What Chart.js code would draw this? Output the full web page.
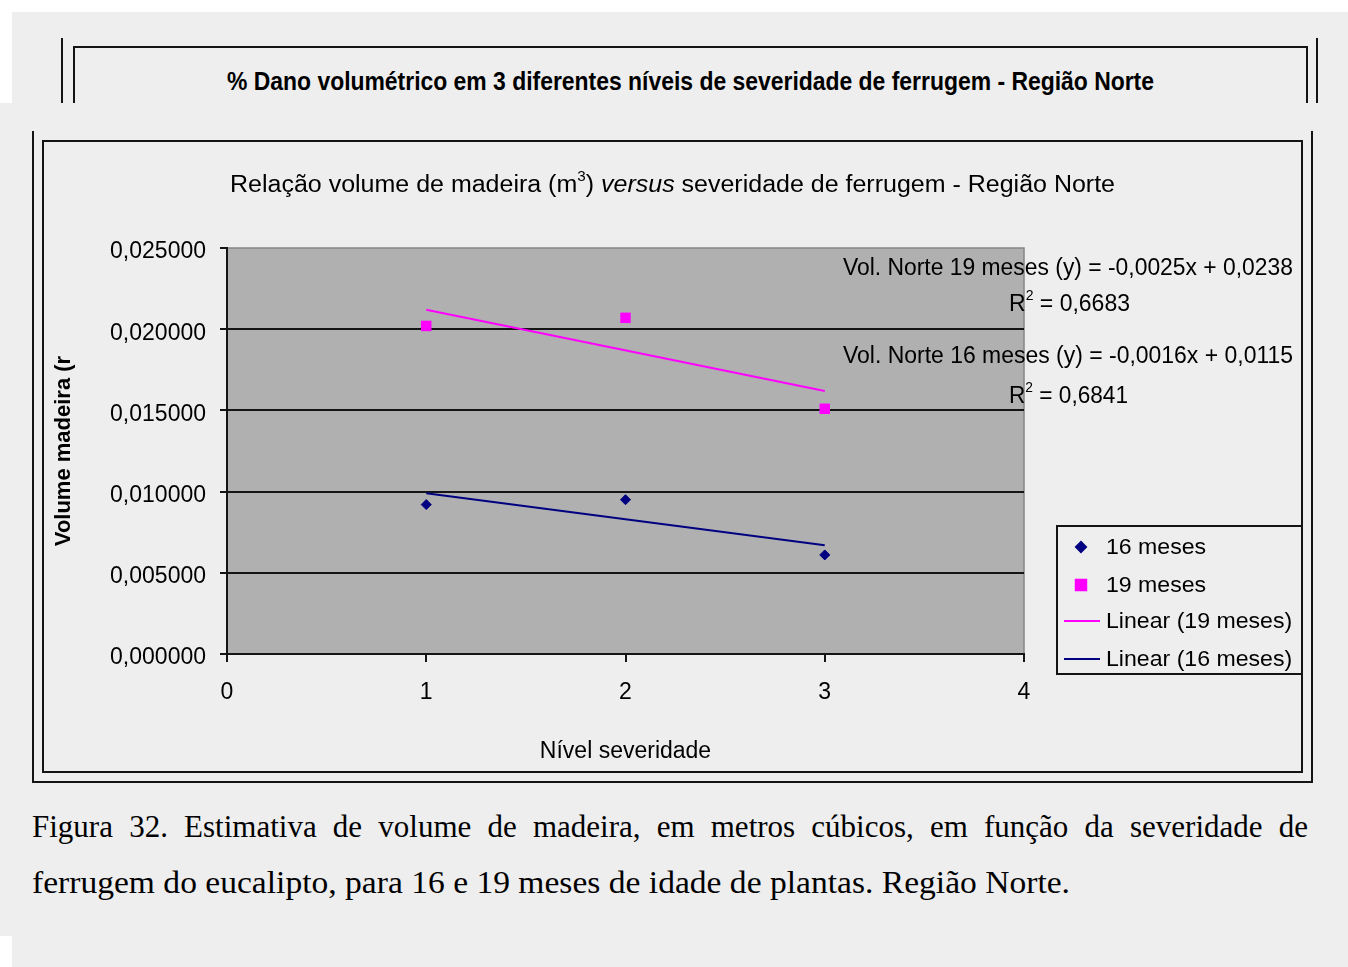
<!DOCTYPE html>
<html>
<head>
<meta charset="utf-8">
<title>Volume de madeira x severidade de ferrugem</title>
<script src="https://cdn.jsdelivr.net/npm/chart.js@4.4.1/dist/chart.umd.min.js"></script>
<style>
    html, body { margin: 0; padding: 0; background: #ffffff; }
    body { width: 1348px; height: 967px; position: relative; overflow: hidden; color: #000; font-family: "Liberation Sans", Arial, sans-serif; }
    .bg { position: absolute; background: #eeeeee; }
    .ln { position: absolute; background: #141414; }
    .box { position: absolute; border: 2px solid #141414; box-sizing: border-box; }
    .txt { position: absolute; white-space: nowrap; line-height: 1; transform-origin: 0 0; }
    .sup { position: relative; font-size: 14px; top: -11px; }
    canvas { position: absolute; left: 44px; top: 142px; }
</style>
</head>
<body>
    <!-- upper, cut-off figure -->
    <div class="bg" style="left:12px;top:12px;width:1336px;height:91px"></div>
    <div class="ln" style="left:61px;top:38px;width:2px;height:65px"></div>
    <div class="ln" style="left:1316px;top:38px;width:2px;height:65px"></div>
    <div class="box" style="left:73px;top:46px;width:1235px;height:120px"></div>
    <div class="txt fit" data-w="927" style="left:227px;top:69px;font-weight:bold;font-size:25px">% Dano volumétrico em 3 diferentes níveis de severidade de ferrugem - Região Norte</div>

    <!-- main figure -->
    <div class="bg" style="left:0;top:103px;width:1348px;height:833px"></div>
    <div class="bg" style="left:12px;top:936px;width:1336px;height:31px"></div>
    <div class="ln" style="left:32px;top:131px;width:2px;height:652px"></div>
    <div class="ln" style="left:1311px;top:131px;width:2px;height:652px"></div>
    <div class="ln" style="left:32px;top:781px;width:1281px;height:2px"></div>
    <div class="box" style="left:42px;top:140px;width:1261px;height:633px"></div>

    <canvas id="volumeChart" width="1257" height="629"></canvas>

    <div class="txt fit" data-w="885" style="left:230px;top:173px;font-size:23px">Relação volume de madeira (m<span class="sup">3</span>) <i>versus</i> severidade de ferrugem - Região Norte</div>

    <div class="txt fit" data-w="450" style="left:843px;top:256px;font-size:23px">Vol. Norte 19 meses (y) = -0,0025x + 0,0238</div>
    <div class="txt fit" data-w="121" style="left:1009px;top:292px;font-size:23px">R<span class="sup">2</span> = 0,6683</div>
    <div class="txt fit" data-w="450" style="left:843px;top:344px;font-size:23px">Vol. Norte 16 meses (y) = -0,0016x + 0,0115</div>
    <div class="txt fit" data-w="119" style="left:1009px;top:384px;font-size:23px">R<span class="sup">2</span> = 0,6841</div>

    <div class="txt" style="left:32px;top:811px;width:1276px;font-family:'Liberation Serif',serif;font-size:31px;text-align:justify;text-align-last:justify;white-space:normal">Figura 32. Estimativa de volume de madeira, em metros cúbicos, em função da severidade de</div>
    <div class="txt fit" data-w="1038" style="left:32px;top:867px;font-family:'Liberation Serif',serif;font-size:31px">ferrugem do eucalipto, para 16 e 19 meses de idade de plantas. Região Norte.</div>

<script>
(function () {
    "use strict";

    // values
    var severity = [1, 2, 3];
    var vol16 = [0.0092, 0.0095, 0.0061];
    var vol19 = [0.0202, 0.0207, 0.0151];

    // fitted trend lines, ends at severity 1 and 3
    var trendX = [1, 3];
    var trend16 = [0.0099, 0.0067];
    var trend19 = [0.0212, 0.0162];

    var seriesLabels = ["16 meses", "19 meses", "Linear (19 meses)", "Linear (16 meses)"];
    var xTickLabels = ["0", "1", "2", "3", "4"];
    var yTickLabels = ["0,000000", "0,005000", "0,010000", "0,015000", "0,020000", "0,025000"];

    var NAVY = "#000080";
    var MAGENTA = "#ff00ff";
    var FONT = '"Liberation Sans", Arial, sans-serif';

    function points(xs, ys) {
        return xs.map(function (x, i) { return { x: x, y: ys[i] }; });
    }

    // grey plot area like the old spreadsheet chart
    var plotBackground = {
        id: "plotBackground",
        beforeDraw: function (chart) {
            var a = chart.chartArea;
            var ctx = chart.ctx;
            ctx.save();
            ctx.fillStyle = "#b0b0b0";
            ctx.fillRect(a.left, a.top, a.right - a.left, a.bottom - a.top);
            ctx.strokeStyle = "#858585";
            ctx.lineWidth = 1.5;
            ctx.beginPath();
            ctx.moveTo(a.left, a.top);
            ctx.lineTo(a.right, a.top);
            ctx.lineTo(a.right, a.bottom);
            ctx.stroke();
            ctx.restore();
        }
    };

    // boxed legend at the right of the plot
    var boxLegend = {
        id: "boxLegend",
        afterDraw: function (chart) {
            var ctx = chart.ctx;
            var rows = [405, 443, 479, 517];
            ctx.save();
            ctx.strokeStyle = "#141414";
            ctx.lineWidth = 2;
            ctx.strokeRect(1013, 384, 250, 148);
            ctx.font = "22px " + FONT;
            ctx.textBaseline = "middle";
            ctx.textAlign = "left";
            chart.data.datasets.forEach(function (ds, i) {
                var y = rows[i];
                if (ds.showLine) {
                    ctx.strokeStyle = ds.borderColor;
                    ctx.lineWidth = ds.borderWidth;
                    ctx.beginPath();
                    ctx.moveTo(1020, y);
                    ctx.lineTo(1056, y);
                    ctx.stroke();
                } else {
                    ctx.fillStyle = ds.backgroundColor;
                    ctx.strokeStyle = ds.borderColor;
                    Chart.helpers.drawPoint(ctx, {
                        pointStyle: ds.pointStyle,
                        radius: ds.pointRadius,
                        rotation: 0,
                        borderWidth: 1
                    }, 1037, y);
                }
                ctx.fillStyle = "#000";
                ctx.save();
                ctx.translate(1062, y + 1);
                ctx.scale(1.05, 1);
                ctx.fillText(ds.label, 0, 0);
                ctx.restore();
            });
            ctx.restore();
        }
    };

    function initChart() {
        var ctx = document.getElementById("volumeChart").getContext("2d");

        new Chart(ctx, {
            type: "scatter",
            data: {
                datasets: [
                    {
                        label: seriesLabels[0],
                        data: points(severity, vol16),
                        pointStyle: "rectRot",
                        pointRadius: 5,
                        backgroundColor: NAVY,
                        borderColor: NAVY,
                        borderWidth: 1,
                        showLine: false
                    },
                    {
                        label: seriesLabels[1],
                        data: points(severity, vol19),
                        pointStyle: "rect",
                        pointRadius: 7.4,
                        backgroundColor: MAGENTA,
                        borderColor: MAGENTA,
                        borderWidth: 0,
                        showLine: false
                    },
                    {
                        label: seriesLabels[2],
                        data: points(trendX, trend19),
                        showLine: true,
                        borderColor: MAGENTA,
                        backgroundColor: MAGENTA,
                        borderWidth: 2,
                        pointRadius: 0,
                        tension: 0
                    },
                    {
                        label: seriesLabels[3],
                        data: points(trendX, trend16),
                        showLine: true,
                        borderColor: NAVY,
                        backgroundColor: NAVY,
                        borderWidth: 2,
                        pointRadius: 0,
                        tension: 0
                    }
                ]
            },
            options: {
                responsive: false,
                animation: false,
                events: [],
                layout: { padding: { left: 0, top: 106, right: 277, bottom: 0 }, autoPadding: false },
                plugins: {
                    legend: { display: false },
                    title: { display: false },
                    tooltip: { enabled: false }
                },
                scales: {
                    x: {
                        type: "linear",
                        min: 0,
                        max: 4,
                        afterFit: function (scale) { scale.height = 117; },
                        ticks: {
                            stepSize: 1,
                            padding: 17,
                            color: "#000",
                            font: { family: FONT, size: 23 },
                            callback: function (value, index) { return xTickLabels[index]; }
                        },
                        grid: { drawOnChartArea: false, tickLength: 8, tickColor: "#141414", lineWidth: 2 },
                        border: { display: true, color: "#141414", width: 2 },
                        title: {
                            display: true,
                            text: "Nível severidade",
                            color: "#000",
                            font: { family: FONT, size: 23 },
                            padding: { top: 14, bottom: 6 }
                        }
                    },
                    y: {
                        min: 0,
                        max: 0.025,
                        afterFit: function (scale) { scale.width = 183; },
                        ticks: {
                            stepSize: 0.005,
                            padding: 14,
                            labelOffset: 4,
                            color: "#000",
                            font: { family: FONT, size: 23 },
                            callback: function (value, index) { return yTickLabels[index]; }
                        },
                        grid: {
                            color: function (c) {
                                return c.tick && c.tick.value >= 0.025 ? "rgba(0,0,0,0)" : "#141414";
                            },
                            tickColor: "#141414",
                            tickLength: 7,
                            lineWidth: 2
                        },
                        border: { display: true, color: "#141414", width: 2 },
                        title: {
                            display: true,
                            text: "Volume madeira (r",
                            color: "#000",
                            font: { family: FONT, size: 22, weight: "bold" },
                            padding: { top: 7, bottom: 0 }
                        }
                    }
                }
            },
            plugins: [plotBackground, boxLegend]
        });
    }

    function fitTexts() {
        var items = document.querySelectorAll(".fit");
        for (var i = 0; i < items.length; i++) {
            var el = items[i];
            var w = el.getBoundingClientRect().width;
            var target = parseFloat(el.getAttribute("data-w"));
            if (w > 0) el.style.transform = "scaleX(" + (target / w) + ")";
        }
    }

    fitTexts();
    initChart();
})();
</script>
</body>
</html>
